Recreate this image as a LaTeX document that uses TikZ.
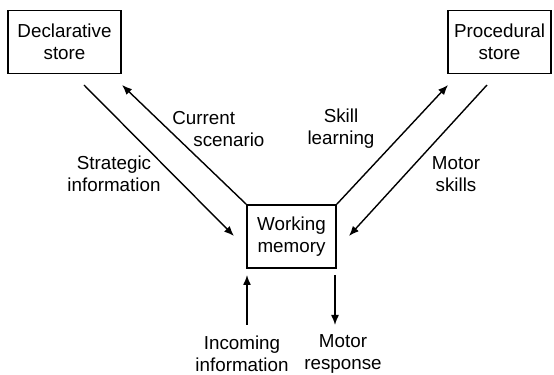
\documentclass[tikz,border=0pt]{standalone}
\usepackage{fontspec}
\setmainfont{Liberation Sans}
\usetikzlibrary{arrows.meta}
\begin{document}
\begin{tikzpicture}[x=0.5pt,y=-0.5pt,
  box/.style={draw,line width=0.8pt,align=center,inner sep=0pt,font=\fontsize{9.4pt}{11pt}\selectfont},
  lbl/.style={align=center,inner sep=0pt,font=\fontsize{9.4pt}{11pt}\selectfont},
  arr/.style={line width=0.7pt,-{Latex[length=5pt,width=4pt]}}]
\useasboundingbox (0,0) rectangle (554,375);
\node[box,minimum width=56.5pt,minimum height=31.5pt] (decl) at (64.5,42) {Declarative\\store};
\node[box,minimum width=51.5pt,minimum height=31.5pt] (proc) at (499.5,42) {Procedural\\store};
\node[box,minimum width=44.5pt,minimum height=31.5pt] (wm) at (291.5,236.5) {Working\\memory};
% arrow end coordinates
\coordinate (s1) at (84,85);
\coordinate (s2) at (234,236);
\coordinate (c1) at (wm.north west);
\coordinate (c2) at (122,85);
\coordinate (k1) at (wm.north east);
\coordinate (k2) at (448,85);
\coordinate (m1) at (487,85);
\coordinate (m2) at (349,236);
\coordinate (i1) at (247,325);
\coordinate (i2) at (247,275);
\coordinate (r1) at (335,275);
\coordinate (r2) at (335,325);
\draw[arr] (s1) -- (s2);
\draw[arr] (c1) -- (c2);
\draw[arr] (k1) -- (k2);
\draw[arr] (m1) -- (m2);
\draw[arr] (i1) -- (i2);
\draw[arr] (r1) -- (r2);
\node[lbl,align=left,anchor=north west] (lc) at (172,111) {Current\\\hspace*{10.5pt}scenario};
\node[lbl] (ls) at (114,174) {Strategic\\information};
\node[lbl] (lk) at (341,129) {Skill\\learning};
\node[lbl] (lm) at (456,174) {Motor\\skills};
\node[lbl] (li) at (242,354) {Incoming\\information};
\node[lbl] (lr) at (343,354) {Motor\\response};
\end{tikzpicture}
\end{document}
